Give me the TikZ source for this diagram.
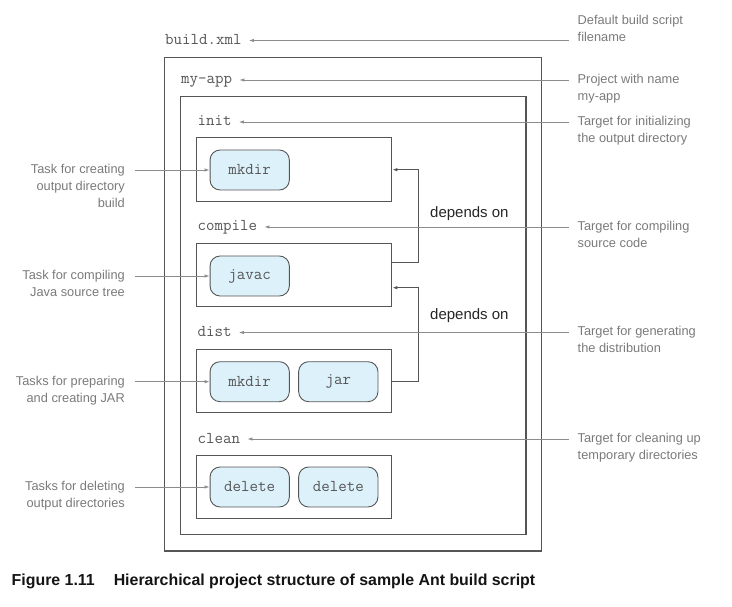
\documentclass[tikz,border=0pt]{standalone}
\usepackage{fontspec}
\setmainfont{Liberation Sans}
\usepackage{tikz}
\usetikzlibrary{arrows.meta,positioning}

\definecolor{boxgray}{HTML}{555555}
\definecolor{notegray}{HTML}{7A7A7A}
\definecolor{linegray}{HTML}{8C8C8C}
\definecolor{taskblue}{HTML}{DDF1FA}

\tikzset{
  framebox/.style={draw=boxgray, line width=1.1pt},
  targetbox/.style={draw=boxgray, line width=1.1pt, minimum width=195.4pt, minimum height=63.5pt, inner sep=0pt},
  task/.style={draw=boxgray, fill=taskblue, line width=0.9pt, rounded corners=10pt, minimum width=79.3pt, minimum height=40pt, inner sep=0pt, font=\ttfamily\fontsize{16.5}{18}\selectfont, text=boxgray},
  codelabel/.style={anchor=west, inner sep=0pt, text height=10pt, text depth=2pt, font=\ttfamily\fontsize{16.5}{18}\selectfont, text=boxgray},
  notetext/.style={inner sep=0pt, font=\fontsize{12.8}{17}\selectfont, text=notegray},
  callout/.style={draw=linegray, line width=0.8pt, shorten >=7pt, -{Latex[length=5pt,width=3.4pt]}},
  taskarrow/.style={draw=linegray, line width=0.8pt, -{Latex[length=5pt,width=3.4pt]}},
  dep/.style={draw=boxgray, line width=1pt, -{Latex[length=5pt,width=3.4pt]}},
  deplabel/.style={anchor=west, inner sep=0pt, font=\fontsize{15}{18}\selectfont, text=black!85}
}

\begin{document}
\begin{tikzpicture}[x=1pt,y=-1pt]
\useasboundingbox (0,0) rectangle (732,607);

% project and target frames
\draw[framebox] (164.3,57.3) rectangle (541.7,551);
\draw[framebox] (180.3,96.7) rectangle (526,534.3);

% labels in the build file
\node[codelabel] (lBuild) at (165,40.5) {build.xml};
\node[codelabel] (lApp) at (181,80) {my-app};
\node[codelabel] (lInit) at (197.5,122) {init};
\node[codelabel] (lCompile) at (197.5,227) {compile};
\node[codelabel] (lDist) at (197.5,332.5) {dist};
\node[codelabel] (lClean) at (197.5,439) {clean};

% targets
\node[targetbox] (initBox) at (294,169.7) {};
\node[targetbox] (compileBox) at (294,275) {};
\node[targetbox] (distBox) at (294,381) {};
\node[targetbox] (cleanBox) at (294,487) {};

% tasks
\node[task] (mkdirA) at (249.7,170) {mkdir};
\node[task] (javac) at (249.7,276) {javac};
\node[task] (mkdirB) at (249.7,381.7) {mkdir};
\node[task, right=8.4pt of mkdirB] (jar) {jar};
\node[task] (deleteA) at (249.7,487) {delete};
\node[task, right=8.4pt of deleteA] (deleteB) {delete};

% dependencies
\draw[dep] ([yshift=12.7pt]compileBox.east) -- ++(26.6,0) |- (initBox.east);
\draw[dep] (distBox.east) -- ++(26.6,0) |- ([yshift=-12.7pt]compileBox.east);
\node[deplabel] (depA) at (430,213.3) {depends on};
\node[deplabel] (depB) at (430,315.7) {depends on};

% notes on the right
\coordinate (rBuild) at (568.5,40.5);
\coordinate (rApp) at (568.5,80);
\coordinate (rInit) at (568.5,122);
\coordinate (rCompile) at (568.5,227);
\coordinate (rDist) at (568.5,332.5);
\coordinate (rClean) at (568.5,439);
\node[notetext, anchor=north west, align=left] (nBuild) at (577.5,15) {Default build script\\filename};
\node[notetext, anchor=north west, align=left] (nApp) at (577.5,74) {Project with name\\my-app};
\node[notetext, anchor=north west, align=left] (nInit) at (577.5,116) {Target for initializing\\the output directory};
\node[notetext, anchor=north west, align=left] (nCompile) at (577.5,221) {Target for compiling\\source code};
\node[notetext, anchor=north west, align=left] (nDist) at (577.5,326.5) {Target for generating\\the distribution};
\node[notetext, anchor=north west, align=left] (nClean) at (577.5,433) {Target for cleaning up\\temporary directories};
\draw[callout] (rBuild) -- (lBuild);
\draw[callout] (rApp) -- (lApp);
\draw[callout] (rInit) -- (lInit);
\draw[callout] (rCompile) -- (lCompile);
\draw[callout] (rDist) -- (lDist);
\draw[callout] (rClean) -- (lClean);

% notes on the left
\coordinate (tMkdirA) at (135,170);
\coordinate (tJavac) at (135,276);
\coordinate (tMkdirB) at (135,381.7);
\coordinate (tDelete) at (135,487);
\node[notetext, anchor=north east, align=right] (nMkdirA) at (125,164) {Task for creating\\output directory\\build};
\node[notetext, anchor=north east, align=right] (nJavac) at (125,270) {Task for compiling\\Java source tree};
\node[notetext, anchor=north east, align=right] (nMkdirB) at (125,375.7) {Tasks for preparing\\and creating JAR};
\node[notetext, anchor=north east, align=right] (nDelete) at (125,481) {Tasks for deleting\\output directories};
\draw[taskarrow] (tMkdirA) -- (mkdirA);
\draw[taskarrow] (tJavac) -- (javac);
\draw[taskarrow] (tMkdirB) -- (mkdirB);
\draw[taskarrow] (tDelete) -- (deleteA);

% caption
\node[anchor=base west, inner sep=0pt, font=\bfseries\fontsize{15.9}{18}\selectfont, text=black!92] (caption) at (11.5,585) {Figure 1.11\hspace{19pt}Hierarchical project structure of sample Ant build script};
\end{tikzpicture}
\end{document}
